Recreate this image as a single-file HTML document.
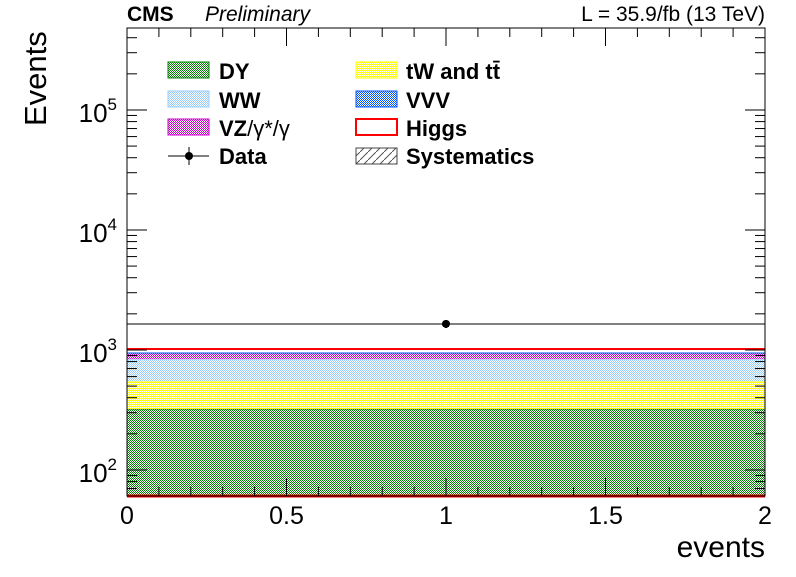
<!DOCTYPE html>
<html><head><meta charset="utf-8"><style>
body{margin:0;background:#fff;}
svg text{font-family:"Liberation Sans",sans-serif;}
</style></head><body>
<svg id="chart" width="796" height="572" xmlns="http://www.w3.org/2000/svg">
<defs>
<pattern id="pDY" width="2" height="2" patternUnits="userSpaceOnUse"><rect width="2" height="2" fill="#fff"/><rect width="1" height="1" fill="#008000"/><rect x="1" y="1" width="1" height="1" fill="#008000"/></pattern>
<pattern id="pTW" width="2" height="2" patternUnits="userSpaceOnUse"><rect width="2" height="2" fill="#fff"/><rect width="1" height="1" fill="#ffff00"/><rect x="1" y="1" width="1" height="1" fill="#ffff00"/></pattern>
<pattern id="pWW" width="2" height="2" patternUnits="userSpaceOnUse"><rect width="2" height="2" fill="#fff"/><rect width="1" height="1" fill="#99ccff"/><rect x="1" y="1" width="1" height="1" fill="#99ccff"/></pattern>
<pattern id="pVZ" width="2" height="2" patternUnits="userSpaceOnUse"><rect width="2" height="2" fill="#fff"/><rect width="1" height="1" fill="#cc00cc"/><rect x="1" y="1" width="1" height="1" fill="#cc00cc"/></pattern>
<pattern id="pVVV" width="2" height="2" patternUnits="userSpaceOnUse"><rect width="2" height="2" fill="#fff"/><rect width="1" height="1" fill="#0055ff"/><rect x="1" y="1" width="1" height="1" fill="#0055ff"/></pattern>
<pattern id="pSys" width="8" height="8" patternUnits="userSpaceOnUse"><rect width="8" height="8" fill="#fff"/><path d="M0,8 L8,0" stroke="#555" stroke-width="1"/></pattern>
</defs>
<g id="marks" shape-rendering="crispEdges"></g>
<rect x="127" y="28" width="638" height="468" fill="none" stroke="#000" stroke-width="1"/>
<g id="ticks"></g>
<text x="127" y="21" font-size="21" font-weight="bold">CMS</text>
<text x="205" y="21" font-size="21" font-style="italic">Preliminary</text>
<text x="765" y="21" font-size="21" text-anchor="end">L = 35.9/fb (13 TeV)</text>
<text transform="translate(46,126) rotate(-90)" font-size="31" text-anchor="start">Events</text>
<text x="765" y="557" font-size="30" text-anchor="end">events</text>
<g id="legend">
<g><rect x="168" y="62" width="41" height="16" fill="url(#pDY)" stroke="#008000"/><text x="219" y="79" font-size="22" font-weight="bold">DY</text></g>
<g><rect x="168" y="91" width="41" height="16" fill="url(#pWW)" stroke="#99ccff"/><text x="219" y="108" font-size="22" font-weight="bold">WW</text></g>
<g><rect x="168" y="119" width="41" height="16" fill="url(#pVZ)" stroke="#cc00cc"/><text x="219" y="136" font-size="22"><tspan font-weight="bold">VZ</tspan>/γ*/γ</text></g>
<g><line x1="168" y1="156" x2="209" y2="156" stroke="#000"/><line x1="189" y1="147" x2="189" y2="165" stroke="#000"/><circle cx="189" cy="156" r="4"/><text x="219" y="164" font-size="22" font-weight="bold">Data</text></g>
<g><rect x="356" y="62" width="41" height="16" fill="url(#pTW)" stroke="#ffff00"/><text x="406" y="79" font-size="22" font-weight="bold">tW and tt̄</text></g>
<g><rect x="356" y="91" width="41" height="16" fill="url(#pVVV)" stroke="#0055ff"/><text x="406" y="108" font-size="22" font-weight="bold">VVV</text></g>
<g><rect x="356" y="119" width="41" height="16" fill="none" stroke="#ff0000" stroke-width="2"/><text x="406" y="136" font-size="22" font-weight="bold">Higgs</text></g>
<g><rect x="356" y="148" width="41" height="16" fill="url(#pSys)" stroke="#444"/><text x="406" y="164" font-size="22" font-weight="bold">Systematics</text></g>
</g>
</svg>
<script>
const categories = ["events"];
const binEdges = [0, 2];
const processNames = ["DY", "tW and tt", "WW", "VZ", "VVV", "Higgs"];
const processValues = [322, 230, 289, 103, 0.5, 75];
const processFills = ["url(#pDY)", "url(#pTW)", "url(#pWW)", "url(#pVZ)", "url(#pVVV)", "none"];
const processStrokes = ["#008000", "#ffff00", "#99ccff", "#cc00cc", "#0055ff", "#ff0000"];
const dataValues = [1648];
const dataX = [1];
const xTicks = [0, 0.5, 1, 1.5, 2];
const xTickLabels = ["0", "0.5", "1", "1.5", "2"];
const yDecades = [2, 3, 4, 5];

const X0=127, X1=765, Y0=496, Y1=28, XMIN=0, XMAX=2, LMIN=1.783, LMAX=5.683;
const NS="http://www.w3.org/2000/svg";
function xs(v){return X0+(v-XMIN)/(XMAX-XMIN)*(X1-X0);}
function ys(v){return Y0-(Math.log10(v)-LMIN)/(LMAX-LMIN)*(Y0-Y1);}
function mk(tag,attrs,parent){const e=document.createElementNS(NS,tag);for(const k in attrs)e.setAttribute(k,attrs[k]);parent.appendChild(e);return e;}
const marks=document.getElementById('marks'), ticks=document.getElementById('ticks');
let cum=0;
processValues.forEach((v,i)=>{
  const lo=cum; cum+=v;
  const yTop=ys(cum), yBot=lo>0?ys(lo):Y0;
  const r=mk('rect',{x:xs(binEdges[0]),y:yTop,width:xs(binEdges[1])-xs(binEdges[0]),height:Math.max(0,yBot-yTop),fill:processFills[i]},marks);
  
  
  const l=mk('line',{x1:X0,x2:X1,y1:yTop,y2:yTop,stroke:processStrokes[i],'stroke-width':i===5?2:1},marks);
  
  
});
const hb=mk('line',{x1:X0,x2:X1,y1:Y0,y2:Y0,stroke:'#ff0000','stroke-width':3},marks);


dataValues.forEach((v,i)=>{
  const y=ys(v);
  const l=mk('line',{x1:xs(binEdges[0]),x2:xs(binEdges[1]),y1:y,y2:y,stroke:'#000'},marks);
  
  
  const c=mk('circle',{cx:xs(dataX[i]),cy:y,r:4,fill:'#000'},marks);
  
  
});
for(let k=0;k<=20;k++){
  const v=k*0.1, x=xs(v), major=(k%5===0);
  const L=major?18:9;
  mk('line',{x1:x,x2:x,y1:Y0,y2:Y0-L,stroke:'#000'},ticks);
  mk('line',{x1:x,x2:x,y1:Y1,y2:Y1+L,stroke:'#000'},ticks);
}
xTicks.forEach((v,i)=>{
  const t=mk('text',{x:xs(v),y:524,'font-size':25,'text-anchor':'middle'},ticks);
  t.textContent=xTickLabels[i];
  
  
});
for(let d=1;d<=5;d++){
  for(let m=1;m<=9;m++){
    const v=m*Math.pow(10,d); const lv=Math.log10(v);
    if(lv<LMIN||lv>LMAX)continue;
    const y=ys(v), L=m===1?20:10;
    mk('line',{x1:X0,x2:X0+L,y1:y,y2:y,stroke:'#000'},ticks);
    mk('line',{x1:X1,x2:X1-L,y1:y,y2:y,stroke:'#000'},ticks);
  }
}
yDecades.forEach(d=>{
  const t=mk('text',{x:117,y:ys(Math.pow(10,d))+12,'font-size':26,'text-anchor':'end'},ticks);
  t.innerHTML='10<tspan dy="-12" font-size="17">'+d+'</tspan>';
  
  
});
</script>
</body></html>
